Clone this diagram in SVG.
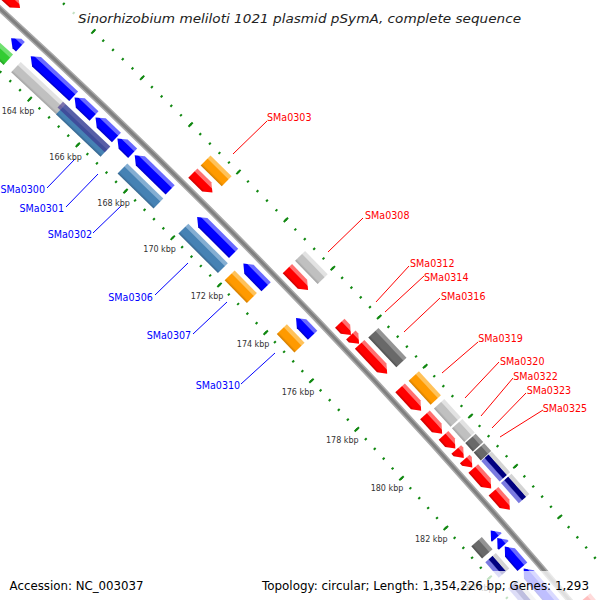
<svg xmlns="http://www.w3.org/2000/svg" width="600" height="600" viewBox="0 0 600 600">
<defs>
<linearGradient id="gR" x1="0" y1="0" x2="0" y2="1"><stop offset="0" stop-color="#ff7070"/><stop offset="0.27" stop-color="#ff7070"/><stop offset="0.34" stop-color="#ff0000"/><stop offset="0.8" stop-color="#ff0000"/><stop offset="1" stop-color="#c80000"/></linearGradient>
<linearGradient id="gB" x1="0" y1="0" x2="0" y2="1"><stop offset="0" stop-color="#6a6aff"/><stop offset="0.27" stop-color="#6a6aff"/><stop offset="0.34" stop-color="#0000ff"/><stop offset="0.8" stop-color="#0000ff"/><stop offset="1" stop-color="#0000c0"/></linearGradient>
<linearGradient id="gT" x1="0" y1="0" x2="0" y2="1"><stop offset="0" stop-color="#84aed2"/><stop offset="0.27" stop-color="#84aed2"/><stop offset="0.34" stop-color="#4682b4"/><stop offset="0.8" stop-color="#4682b4"/><stop offset="1" stop-color="#36668e"/></linearGradient>
<linearGradient id="gO" x1="0" y1="0" x2="0" y2="1"><stop offset="0" stop-color="#ffc25a"/><stop offset="0.27" stop-color="#ffc25a"/><stop offset="0.34" stop-color="#ff9a00"/><stop offset="0.8" stop-color="#ff9a00"/><stop offset="1" stop-color="#d07c00"/></linearGradient>
<linearGradient id="gS" x1="0" y1="0" x2="0" y2="1"><stop offset="0" stop-color="#e2e2e2"/><stop offset="0.27" stop-color="#e2e2e2"/><stop offset="0.34" stop-color="#c0c0c0"/><stop offset="0.8" stop-color="#c0c0c0"/><stop offset="1" stop-color="#a0a0a0"/></linearGradient>
<linearGradient id="gD" x1="0" y1="0" x2="0" y2="1"><stop offset="0" stop-color="#949494"/><stop offset="0.27" stop-color="#949494"/><stop offset="0.34" stop-color="#696969"/><stop offset="0.8" stop-color="#696969"/><stop offset="1" stop-color="#4e4e4e"/></linearGradient>
<linearGradient id="gG" x1="0" y1="0" x2="0" y2="1"><stop offset="0" stop-color="#70e070"/><stop offset="0.27" stop-color="#70e070"/><stop offset="0.34" stop-color="#33cc33"/><stop offset="0.8" stop-color="#33cc33"/><stop offset="1" stop-color="#229a22"/></linearGradient>
<linearGradient id="gN" x1="0" y1="0" x2="0" y2="1"><stop offset="0" stop-color="#d4d4d4"/><stop offset="0.28" stop-color="#d4d4d4"/><stop offset="0.34" stop-color="#000080"/><stop offset="0.64" stop-color="#000080"/><stop offset="0.72" stop-color="#7a7ae0"/><stop offset="1" stop-color="#7a7ae0"/></linearGradient>
</defs>
<style>
.kb{font-family:"DejaVu Sans",sans-serif;font-size:8px;fill:#333}
.lr{font-family:"DejaVu Sans",sans-serif;font-size:10px;fill:#ff0000}
.lb{font-family:"DejaVu Sans",sans-serif;font-size:10px;fill:#0000ff}
.cr{stroke:#ff0000;stroke-width:1;fill:none}
.cb{stroke:#0000ff;stroke-width:1;fill:none}
.tick{fill:none;stroke:#118811}
.R{fill:url(#gR)}.B{fill:url(#gB)}.T{fill:url(#gT)}.O{fill:url(#gO)}.S{fill:url(#gS)}.D{fill:url(#gD)}.G{fill:url(#gG)}.N{fill:url(#gN)}
.info{font-family:"DejaVu Sans",sans-serif;font-size:12px;fill:#000}
</style>
<rect width="600" height="600" fill="#fff"/>
<g id="ruler" transform="translate(-4400 4815) rotate(-47.967)">
<circle class="tick" r="6470" stroke-width="2.5" stroke-dasharray="2 11.28" stroke-dashoffset="1"/>
<circle class="tick" r="6470" stroke-width="6" stroke-dasharray="2 64.4" stroke-dashoffset="1"/>
<circle class="tick" r="6563" stroke-width="2.5" stroke-dasharray="2 11.471" stroke-dashoffset="1"/>
<circle class="tick" r="6563" stroke-width="6" stroke-dasharray="2 65.355" stroke-dashoffset="1"/>
</g>
<g id="backbone" transform="translate(-4400 4815)">
<circle r="6516" fill="none" stroke="#a9a9a9" stroke-width="6"/>
<circle r="6516" fill="none" stroke="#808080" stroke-width="3"/>
</g>
<g id="features" transform="translate(-4400 4815)">
<g id="o1-00" transform="rotate(42.177)"><path class="R" d="M0 -6536.5H40.1L48.1 -6530L40.1 -6523.5H0Z"/></g>
<g id="o1-01" transform="rotate(44.696)"><path class="R" d="M0 -6536.5H19.6L27.6 -6530L19.6 -6523.5H0Z"/></g>
<g id="o1-02" transform="rotate(45.875)"><path class="R" d="M0 -6536.5H21.7L29.7 -6530L21.7 -6523.5H0Z"/></g>
<g id="o1-03" transform="rotate(46.539)"><path class="R" d="M0 -6536.5H8.3L16.3 -6530L8.3 -6523.5H0Z"/></g>
<g id="o1-04" transform="rotate(46.681)"><path class="R" d="M0 -6536.5H4L12 -6530L4 -6523.5H0Z"/></g>
<g id="o1-05" transform="rotate(46.793)"><path class="R" d="M0 -6536.5H32.3L40.3 -6530L32.3 -6523.5H0Z"/></g>
<g id="o1-06" transform="rotate(47.314)"><path class="R" d="M0 -6536.5H23.1L31.1 -6530L23.1 -6523.5H0Z"/></g>
<g id="o1-07" transform="rotate(47.637)"><path class="R" d="M0 -6536.5H17.5L25.5 -6530L17.5 -6523.5H0Z"/></g>
<g id="o1-08" transform="rotate(47.879)"><path class="R" d="M0 -6536.5H9.7L17.7 -6530L9.7 -6523.5H0Z"/></g>
<g id="o1-09" transform="rotate(48.046)"><path class="R" d="M0 -6536.5H3.3L11.3 -6530L3.3 -6523.5H0Z"/></g>
<g id="o1-10" transform="rotate(48.158)"><path class="R" d="M0 -6536.5H3.3L11.3 -6530L3.3 -6523.5H0Z"/></g>
<g id="o1-11" transform="rotate(48.270)"><path class="R" d="M0 -6536.5H18.9L26.9 -6530L18.9 -6523.5H0Z"/></g>
<g id="o1-12" transform="rotate(48.537)"><path class="R" d="M0 -6536.5H16.7L24.7 -6530L16.7 -6523.5H0Z"/></g>
<g id="o1-13" transform="rotate(49.770)"><path class="R" d="M0 -6536.5H39L47 -6530L39 -6523.5H0Z"/></g>
<g id="o2-01" transform="rotate(44.697)"><rect class="O" y="-6555" width="29.7" height="14"/></g>
<g id="o2-02" transform="rotate(45.872)"><rect class="S" y="-6555" width="32.5" height="14"/></g>
<g id="o2-03" transform="rotate(46.801)"><rect class="D" y="-6555" width="41" height="14"/></g>
<g id="o2-04" transform="rotate(47.320)"><rect class="O" y="-6555" width="32.5" height="14"/></g>
<g id="o2-05" transform="rotate(47.648)"><rect class="S" y="-6555" width="24.7" height="14"/></g>
<g id="o2-06" transform="rotate(47.883)"><rect class="S" y="-6555" width="18.4" height="14"/></g>
<g id="o2-07" transform="rotate(48.057)"><rect class="D" y="-6555" width="11.3" height="14"/></g>
<g id="o2-08" transform="rotate(48.168)"><rect class="D" y="-6555" width="10.6" height="14"/></g>
<g id="o2-09" transform="rotate(48.267)"><rect class="N" y="-6555" width="27.6" height="14"/></g>
<g id="o2-10" transform="rotate(48.527)"><rect class="N" y="-6555" width="26.9" height="14"/></g>
<g id="i1-00" transform="rotate(42.720)"><path class="B" d="M0 -6502L8 -6508.5H12.7V-6495.5H8Z"/></g>
<g id="i1-01" transform="rotate(42.956)"><path class="B" d="M0 -6502L8 -6508.5H58.7V-6495.5H8Z"/></g>
<g id="i1-02" transform="rotate(43.486)"><path class="B" d="M0 -6502L8 -6508.5H26.9V-6495.5H8Z"/></g>
<g id="i1-03" transform="rotate(43.741)"><path class="B" d="M0 -6502L8 -6508.5H29V-6495.5H8Z"/></g>
<g id="i1-04" transform="rotate(44.009)"><path class="B" d="M0 -6502L8 -6508.5H21.2V-6495.5H8Z"/></g>
<g id="i1-05" transform="rotate(44.221)"><path class="B" d="M0 -6502L8 -6508.5H49.5V-6495.5H8Z"/></g>
<g id="i1-06" transform="rotate(44.994)"><path class="B" d="M0 -6502L8 -6508.5H51.6V-6495.5H8Z"/></g>
<g id="i1-07" transform="rotate(45.573)"><path class="B" d="M0 -6502L8 -6508.5H32.5V-6495.5H8Z"/></g>
<g id="i1-08" transform="rotate(46.240)"><path class="B" d="M0 -6502L8 -6508.5H24V-6495.5H8Z"/></g>
<g id="i1-09" transform="rotate(48.780)"><path class="B" d="M0 -6502L8 -6508.5H9.2V-6495.5H8Z"/></g>
<g id="i1-10" transform="rotate(48.867)"><path class="B" d="M0 -6502L8 -6508.5H9.9V-6495.5H8Z"/></g>
<g id="i1-11" transform="rotate(48.968)"><path class="B" d="M0 -6502L8 -6508.5H26.9V-6495.5H8Z"/></g>
<g id="i1-12" transform="rotate(49.223)"><path class="B" d="M0 -6502L8 -6508.5H51.6V-6495.5H8Z"/></g>
<g id="i2-00" transform="rotate(42.282)"><rect class="G" y="-6491" width="62.2" height="14"/></g>
<g id="i2-01" transform="rotate(42.926)"><rect class="S" y="-6491" width="61.5" height="14"/></g>
<g id="i2-02" transform="rotate(43.469)"><rect class="T" y="-6491" width="61.5" height="14"/></g>
<g id="i2-02b" transform="rotate(43.438)"><rect fill="#3a2a8a" fill-opacity="0.6" y="-6491" width="65.1" height="8"/></g>
<g id="i2-03" transform="rotate(44.225)"><rect class="T" y="-6491" width="50.2" height="14"/></g>
<g id="i2-04" transform="rotate(44.981)"><rect class="T" y="-6491" width="55.9" height="14"/></g>
<g id="i2-05" transform="rotate(45.562)"><rect class="O" y="-6491" width="31.8" height="14"/></g>
<g id="i2-06" transform="rotate(46.225)"><rect class="O" y="-6491" width="25.5" height="14"/></g>
<g id="i2-07" transform="rotate(48.772)"><rect class="D" y="-6491" width="16.3" height="14"/></g>
<g id="i2-08" transform="rotate(48.960)"><rect class="N" y="-6491" width="20.5" height="14"/></g>
<g id="i2-09" transform="rotate(49.266)"><rect class="N" y="-6491" width="44.5" height="14"/></g>
</g>
<g id="connectors">
<path class="cr" d="M233 154L267 121"/>
<path class="cr" d="M328 252L363 218"/>
<path class="cr" d="M376 302L409 266"/>
<path class="cr" d="M385 312L424 276"/>
<path class="cr" d="M404 332L440 298"/>
<path class="cr" d="M442 373L478 342"/>
<path class="cr" d="M465 398L499 362"/>
<path class="cr" d="M481 416L513 378"/>
<path class="cr" d="M492 428L526 393"/>
<path class="cr" d="M500 437L543 410"/>
<path class="cb" d="M47 188L75 159"/>
<path class="cb" d="M66 207L98 174"/>
<path class="cb" d="M93 233L122 205"/>
<path class="cb" d="M155 295L188 263"/>
<path class="cb" d="M193 334L227 302"/>
<path class="cb" d="M241 384L275 353"/>
</g>
<g id="labels">
<text class="lr" x="267" y="120.5" textLength="44.5" lengthAdjust="spacingAndGlyphs">SMa0303</text>
<text class="lr" x="365" y="218.5" textLength="44.5" lengthAdjust="spacingAndGlyphs">SMa0308</text>
<text class="lr" x="410" y="266.5" textLength="44.5" lengthAdjust="spacingAndGlyphs">SMa0312</text>
<text class="lr" x="424" y="281" textLength="44.5" lengthAdjust="spacingAndGlyphs">SMa0314</text>
<text class="lr" x="441" y="300" textLength="44.5" lengthAdjust="spacingAndGlyphs">SMa0316</text>
<text class="lr" x="478.3" y="341.5" textLength="44.5" lengthAdjust="spacingAndGlyphs">SMa0319</text>
<text class="lr" x="500" y="365" textLength="44.5" lengthAdjust="spacingAndGlyphs">SMa0320</text>
<text class="lr" x="513.3" y="380" textLength="44.5" lengthAdjust="spacingAndGlyphs">SMa0322</text>
<text class="lr" x="526.7" y="393.5" textLength="44.5" lengthAdjust="spacingAndGlyphs">SMa0323</text>
<text class="lr" x="542.7" y="411.5" textLength="44.5" lengthAdjust="spacingAndGlyphs">SMa0325</text>
<text class="lb" x="0.5" y="193" textLength="44.5" lengthAdjust="spacingAndGlyphs">SMa0300</text>
<text class="lb" x="19.5" y="212" textLength="44.5" lengthAdjust="spacingAndGlyphs">SMa0301</text>
<text class="lb" x="47.7" y="238" textLength="44.5" lengthAdjust="spacingAndGlyphs">SMa0302</text>
<text class="lb" x="108.3" y="300.5" textLength="44.5" lengthAdjust="spacingAndGlyphs">SMa0306</text>
<text class="lb" x="146.7" y="339" textLength="44.5" lengthAdjust="spacingAndGlyphs">SMa0307</text>
<text class="lb" x="195.7" y="389" textLength="44.5" lengthAdjust="spacingAndGlyphs">SMa0310</text>
</g>
<g id="kbp">
<text class="kb" x="1.7" y="113.5">164 kbp</text>
<text class="kb" x="49.3" y="159.8">166 kbp</text>
<text class="kb" x="97.3" y="205.8">168 kbp</text>
<text class="kb" x="143.3" y="251.8">170 kbp</text>
<text class="kb" x="190.7" y="299">172 kbp</text>
<text class="kb" x="236.8" y="346.8">174 kbp</text>
<text class="kb" x="281.7" y="395">176 kbp</text>
<text class="kb" x="326" y="443">178 kbp</text>
<text class="kb" x="370.7" y="490.8">180 kbp</text>
<text class="kb" x="415" y="541.5">182 kbp</text>
<text class="kb" x="461" y="591">184 kbp</text>
</g>
<g id="legend">
<rect x="68" y="3" width="464" height="26" fill="#fff" fill-opacity="0.75"/>
<rect x="3" y="571" width="146" height="29" fill="#fff" fill-opacity="0.75"/>
<rect x="256" y="571" width="340" height="29" fill="#fff" fill-opacity="0.75"/>
<text x="78" y="23" font-family="DejaVu Sans, sans-serif" font-style="italic" font-size="12.5" fill="#222" textLength="443" lengthAdjust="spacingAndGlyphs">Sinorhizobium meliloti 1021 plasmid pSymA, complete sequence</text>
<text class="info" x="9.6" y="590" textLength="134" lengthAdjust="spacingAndGlyphs">Accession: NC_003037</text>
<text class="info" x="262" y="590" textLength="327" lengthAdjust="spacingAndGlyphs">Topology: circular; Length: 1,354,226 bp; Genes: 1,293</text>
</g>
</svg>
